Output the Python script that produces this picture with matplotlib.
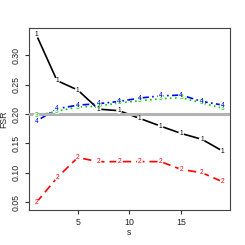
import matplotlib
matplotlib.use("Agg")
import matplotlib.pyplot as plt
import numpy as np

s = [1, 3, 5, 7, 9, 11, 13, 15, 17, 19]
fsr1 = [0.335, 0.257, 0.241, 0.2085, 0.2057, 0.1926, 0.1795, 0.167, 0.157, 0.137]
fsr2 = [0.0494, 0.0915, 0.126, 0.1188, 0.119, 0.119, 0.119, 0.1057, 0.100, 0.0847]
fsr3 = [0.197, 0.205, 0.212, 0.2136, 0.219, 0.2227, 0.226, 0.228, 0.219, 0.210]
fsr4 = [0.188, 0.209, 0.2153, 0.2176, 0.2216, 0.2273, 0.231, 0.2324, 0.2216, 0.2153]
ref_level = 0.20
xticks = [5, 10, 15]
yticks = [0.05, 0.10, 0.15, 0.20, 0.25, 0.30]

plt.rcParams['font.family'] = ['Liberation Sans', 'DejaVu Sans']

series = [
    (fsr1, "1", "black", "-"),
    (fsr2, "2", "#ff0000", (0, (5, 3))),
    (fsr3, "3", "#00cd00", (0, (1, 2))),
    (fsr4, "4", "#0000ff", (0, (1, 2, 4, 2))),
]

fig = plt.figure(figsize=(2.45, 2.45), dpi=100)
ax = fig.add_axes([0.118, 0.143, 0.821, 0.743])

for vals, ch, col, ls in series:
    ax.plot(s, vals, color=col, linestyle=ls, linewidth=1.2, zorder=3)
ax.axhline(ref_level, color="#b3b3b3", linewidth=2.2, zorder=4)
for vals, ch, col, ls in series:
    ax.scatter(s, vals, s=18, color="white", edgecolors="none", zorder=5)
    for xv, yv in zip(s, vals):
        ax.text(xv, yv, ch, color=col, fontsize=4.8, ha="center", va="center", zorder=6)

ax.set_xlim(0.28, 19.72)
ax.set_ylim(0.0366, 0.3468)
ax.set_xticks(xticks)
ax.set_xticklabels([str(t) for t in xticks])
ax.set_yticks(yticks)
ax.set_yticklabels([f"{t:.2f}" for t in yticks], rotation=90, va="center")
ax.tick_params(labelsize=6.3, length=3.2, width=0.8, color="#333333", labelcolor="#222222", pad=2.5)
for sp in ax.spines.values():
    sp.set_color("#444444")
    sp.set_linewidth(0.8)
ax.set_xlabel("s", fontsize=6.3, color="#222222")
ax.set_ylabel("FSR", fontsize=6.3, color="#222222")
ax.xaxis.set_label_coords(0.5, -0.1)
ax.yaxis.set_label_coords(-0.102, 0.5)

fig.savefig("out.png", dpi=100)
